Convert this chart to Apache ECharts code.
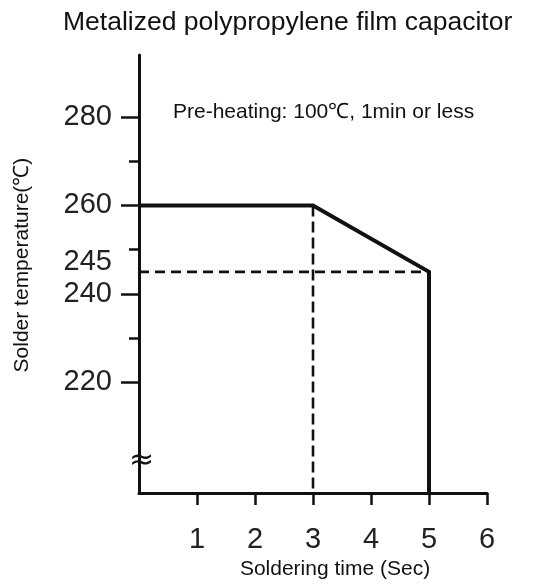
<!DOCTYPE html>
<html>
<head>
<meta charset="utf-8">
<script src="https://cdn.jsdelivr.net/npm/echarts@6/dist/echarts.min.js"></script>
<style>
  html, body { margin: 0; padding: 0; background: #fff; }
  #main { width: 548px; height: 585px; }
</style>
</head>
<body>
<div id="main"></div>
<script>
// solder profile (time in sec, temperature in ℃)
var profileTime = [0, 3, 5, 5];
var profileTemp = [260, 260, 245, 195];
// dashed guide lines
var guideHTime = [0, 5];
var guideHTemp = [245, 245];
var guideVTime = [3, 3];
var guideVTemp = [260, 195];
// axis ticks / labels
var xTicks = [1, 2, 3, 4, 5, 6];
var yMajorTicks = [220, 240, 260, 280];
var yMinorTicks = [230, 250, 270];
var yLabels = [220, 240, 245, 260, 280];
var yMin = 195, yMax = 294;

function pairs(xs, ys) {
  return xs.map(function (x, i) { return [x, ys[i]]; });
}

var chart = echarts.init(document.getElementById('main'), null, { renderer: 'canvas' });
var font = 'Liberation Sans, Arial, sans-serif';

var option = {
  animation: false,
  title: [
    {
      text: 'Metalized polypropylene film capacitor',
      left: 63,
      top: 9,
      padding: 0,
      textStyle: { fontFamily: font, fontSize: 26.5, fontWeight: 'normal', color: '#111' }
    },
    {
      text: 'Pre-heating: 100℃, 1min or less',
      left: 173,
      top: 102,
      padding: 0,
      textStyle: { fontFamily: font, fontSize: 21, fontWeight: 'normal', color: '#111' }
    }
  ],
  grid: { left: 139, right: 61, top: 55, bottom: 83, containLabel: false },
  xAxis: {
    type: 'value',
    min: 0,
    max: 6,
    interval: 1,
    name: 'Soldering time (Sec)',
    nameLocation: 'middle',
    nameGap: 58,
    nameTextStyle: { fontFamily: font, fontSize: 21, color: '#111', padding: [0, 0, 0, 44] },
    axisLine: { lineStyle: { color: '#111', width: 3 } },
    axisTick: { customValues: xTicks, length: 12, lineStyle: { color: '#111', width: 2.5 } },
    axisLabel: { customValues: xTicks, margin: 32, fontFamily: font, fontSize: 29, color: '#222' },
    splitLine: { show: false }
  },
  yAxis: [
    {
      type: 'value',
      min: yMin,
      max: yMax,
      name: 'Solder temperature(℃)',
      nameLocation: 'middle',
      nameGap: 106,
      nameTextStyle: { fontFamily: font, fontSize: 21, color: '#111', padding: [0, 0, 0, 18] },
      axisLine: { show: true, lineStyle: { color: '#111', width: 3 } },
      axisTick: { show: true, customValues: yMajorTicks, length: 18, lineStyle: { color: '#111', width: 2.5 } },
      axisLabel: {
        customValues: yLabels,
        margin: 27,
        fontFamily: font,
        fontSize: 29,
        color: '#222',
        formatter: function (v) { return v === 245 ? '{up|245}' : String(v); },
        rich: { up: { fontFamily: font, fontSize: 29, color: '#222', padding: [0, 0, 20, 0] } }
      },
      splitLine: { show: false }
    },
    {
      type: 'value',
      min: yMin,
      max: yMax,
      position: 'left',
      axisLine: { show: false },
      axisTick: { show: true, customValues: yMinorTicks, length: 10, lineStyle: { color: '#111', width: 2.5 } },
      axisLabel: { show: false },
      splitLine: { show: false }
    }
  ],
  series: [
    {
      type: 'line',
      data: pairs(guideHTime, guideHTemp),
      symbol: 'none',
      lineStyle: { color: '#111', width: 2.6, type: [10, 6] }
    },
    {
      type: 'line',
      data: pairs(guideVTime, guideVTemp),
      symbol: 'none',
      lineStyle: { color: '#111', width: 2.6, type: [11, 5] }
    },
    {
      type: 'line',
      data: pairs(profileTime, profileTemp),
      symbol: 'none',
      lineStyle: { color: '#111', width: 4, join: 'miter' }
    }
  ],
  graphic: [
    {
      type: 'text',
      left: 129,
      top: 446,
      style: { text: '≈', fontFamily: 'DejaVu Sans', fontSize: 30, fill: '#111' }
    }
  ]
};

chart.setOption(option);
</script>
</body>
</html>
